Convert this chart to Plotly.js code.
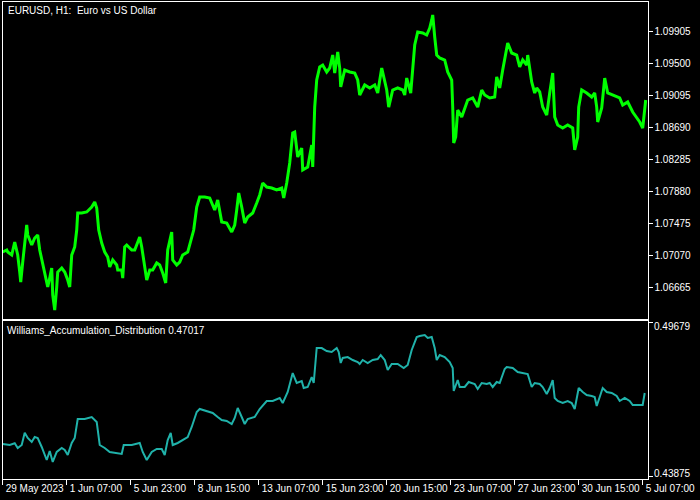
<!DOCTYPE html>
<html>
<head>
<meta charset="utf-8">
<script src="https://cdn.plot.ly/plotly-3.0.1.min.js"></script>
<style>html,body{margin:0;padding:0;background:#000;}#chart{width:700px;height:500px;}</style>
</head>
<body>
<div id="chart"></div>
<script>
// ---- Data (bar index = hourly bar number from the left edge) ----
const timeTickBars = [0, 64, 128, 192, 256, 320, 384, 448, 512, 576, 640];
const timeTickLabels = ["29 May 2023", "1 Jun 07:00", "5 Jun 23:00", "8 Jun 15:00", "13 Jun 07:00",
  "15 Jun 23:00", "20 Jun 15:00", "23 Jun 07:00", "27 Jun 23:00", "30 Jun 15:00", "5 Jul 07:00"];
const priceTicks = [1.06665, 1.07070, 1.07475, 1.07880, 1.08285, 1.08690, 1.09095, 1.09500, 1.09905];
const adTicks = [0.43875, 0.49679];

const priceBars = [0,4,5,9,12,14,15,17,18,20,22,24,25,29,32,35,37,40,44,45,47,49,50,52,54,55,59,62,65,67,69,72,74,75,79,84,89,92,94,96,99,102,105,107,110,114,115,119,120,122,124,129,132,135,137,139,141,144,147,150,154,157,160,163,165,169,170,174,177,180,185,189,191,194,197,202,207,212,215,219,224,229,232,234,236,239,242,245,250,254,257,260,264,269,274,279,281,284,287,290,292,295,299,300,305,309,310,312,314,317,320,324,327,330,332,335,337,338,342,347,352,355,357,362,367,372,375,379,382,384,386,390,395,400,402,404,408,410,412,415,420,424,427,429,430,432,434,437,442,445,449,450,451,453,455,459,462,465,470,475,479,482,487,492,494,497,500,504,505,509,514,517,520,524,525,529,532,534,537,540,544,547,550,552,555,560,565,570,572,575,576,579,584,589,592,594,595,599,602,605,610,617,620,625,630,634,637,640,643];
const priceClose = [1.07109,1.07135,1.07109,1.07071,1.07236,1.07109,1.07071,1.06855,1.06728,1.06982,1.07236,1.07452,1.07325,1.07198,1.07287,1.07325,1.07135,1.06970,1.06754,1.06665,1.06779,1.06906,1.06564,1.06373,1.06665,1.06855,1.06906,1.06855,1.06754,1.06665,1.07071,1.07173,1.07388,1.07604,1.07604,1.07617,1.07680,1.07744,1.07668,1.07388,1.07223,1.07109,1.07046,1.06919,1.07008,1.06944,1.06881,1.06881,1.06779,1.07173,1.07198,1.07135,1.07135,1.07223,1.07300,1.07173,1.06982,1.06754,1.06881,1.06881,1.06970,1.06944,1.06843,1.06716,1.07135,1.07363,1.07008,1.06944,1.06982,1.07071,1.07109,1.07287,1.07388,1.07680,1.07807,1.07807,1.07795,1.07642,1.07769,1.07490,1.07477,1.07363,1.07452,1.07642,1.07858,1.07680,1.07477,1.07553,1.07604,1.07731,1.07833,1.07985,1.07934,1.07921,1.07896,1.07921,1.07795,1.07985,1.08239,1.08619,1.08632,1.08315,1.08429,1.08150,1.08188,1.08467,1.08188,1.08949,1.09292,1.09457,1.09482,1.09394,1.09444,1.09609,1.09381,1.09647,1.09444,1.09203,1.09419,1.09394,1.09381,1.09292,1.09102,1.09229,1.09191,1.09229,1.09127,1.09444,1.09292,1.09165,1.08949,1.09165,1.09191,1.09165,1.09102,1.09317,1.09127,1.09444,1.09736,1.09901,1.09889,1.09863,1.09952,1.10054,1.10117,1.09838,1.09609,1.09571,1.09546,1.09394,1.09292,1.08949,1.08493,1.08569,1.08911,1.08823,1.08937,1.09038,1.09064,1.08949,1.09165,1.09102,1.09064,1.09076,1.09330,1.09191,1.09419,1.09698,1.09762,1.09635,1.09609,1.09457,1.09546,1.09482,1.09609,1.09267,1.09127,1.09191,1.09140,1.08949,1.08848,1.09127,1.09381,1.08823,1.08721,1.08683,1.08721,1.08683,1.08404,1.08569,1.08949,1.09165,1.09127,1.09076,1.09127,1.08949,1.08759,1.08937,1.09317,1.09127,1.09102,1.09064,1.08975,1.09013,1.08886,1.08810,1.08759,1.08683,1.09038];

const adBars = [0,7,12,15,19,22,25,29,32,35,39,42,44,47,50,54,59,62,65,69,72,75,82,89,94,97,102,107,114,119,121,129,137,140,144,149,154,159,162,165,168,170,175,180,185,189,194,197,204,210,215,219,224,229,232,235,239,242,245,252,257,264,270,277,280,285,290,294,299,301,305,309,311,314,319,324,329,334,336,338,340,345,350,355,357,360,365,370,375,378,382,385,389,395,401,405,409,414,417,422,425,429,432,434,437,442,447,450,451,454,455,457,462,466,472,475,479,484,487,490,494,497,499,502,504,510,515,520,525,529,532,537,540,544,547,550,552,555,560,565,569,572,576,580,584,589,592,594,597,600,604,609,614,617,622,627,630,635,640,642];
const adValues = [0.45110,0.45073,0.45136,0.44960,0.45073,0.45533,0.45335,0.45185,0.45372,0.45335,0.44998,0.44698,0.44511,0.44848,0.44436,0.44811,0.44960,0.44886,0.44698,0.45148,0.45335,0.46046,0.46046,0.46121,0.45934,0.45073,0.44960,0.44811,0.44773,0.44736,0.45073,0.45073,0.45148,0.44811,0.44511,0.44811,0.44923,0.44923,0.44698,0.45260,0.45522,0.45073,0.45148,0.45260,0.45372,0.45747,0.46309,0.46421,0.46346,0.46271,0.46121,0.46009,0.45972,0.45859,0.46084,0.46458,0.46121,0.45859,0.46046,0.46121,0.46421,0.46721,0.46721,0.46833,0.46646,0.47058,0.47769,0.47395,0.47470,0.47207,0.47245,0.47619,0.47395,0.48705,0.48705,0.48593,0.48556,0.48705,0.48556,0.48144,0.48331,0.48368,0.48256,0.48181,0.48106,0.48256,0.48144,0.48256,0.48293,0.48443,0.48256,0.47882,0.48106,0.48106,0.47956,0.48069,0.48631,0.49117,0.49155,0.49192,0.49080,0.49117,0.48705,0.48256,0.48443,0.48368,0.48181,0.47956,0.47095,0.47395,0.47507,0.47245,0.47245,0.47432,0.47357,0.47170,0.47395,0.47357,0.47395,0.47245,0.47432,0.47395,0.47582,0.47919,0.47994,0.47956,0.47807,0.47769,0.47732,0.47245,0.47395,0.47357,0.47245,0.46983,0.47207,0.47507,0.46833,0.46721,0.46646,0.46721,0.46646,0.46421,0.47207,0.47058,0.46945,0.46908,0.46870,0.46533,0.46833,0.47207,0.47058,0.47020,0.46908,0.46721,0.46833,0.46721,0.46571,0.46571,0.46571,0.47020];

const mainTitle = "EURUSD, H1:\u00a0 Euro vs US Dollar";
const indicatorTitle = "Williams_Accumulation_Distribution 0.47017";

// ---- Chart ----
const FONT = 'Liberation Sans, Arial, sans-serif';
const xDomain = [0.0036, 0.925];
const xRange = [-0.2, 644.8];

const traces = [
  {x: priceBars, y: priceClose, xaxis: 'x', yaxis: 'y', type: 'scatter', mode: 'lines',
   line: {color: '#00ff00', width: 3}, hoverinfo: 'skip'},
  {x: adBars, y: adValues, xaxis: 'x2', yaxis: 'y2', type: 'scatter', mode: 'lines',
   line: {color: '#20b2aa', width: 2}, hoverinfo: 'skip'}
];

const axisBase = {showline: true, mirror: true, linecolor: '#ffffff', linewidth: 1,
  showgrid: false, zeroline: false};

const layout = {
  width: 700, height: 500,
  margin: {l: 0, r: 0, t: 0, b: 0, pad: 0},
  paper_bgcolor: '#000000', plot_bgcolor: '#000000',
  showlegend: false,
  font: {family: FONT, size: 10, color: '#ffffff'},
  xaxis: Object.assign({}, axisBase, {domain: xDomain, range: xRange, anchor: 'y',
    showticklabels: false, ticks: ''}),
  yaxis: Object.assign({}, axisBase, {domain: [0.362, 0.996], range: [1.06259, 1.10282],
    side: 'right', anchor: 'x', ticks: 'outside', ticklen: 4, tickcolor: '#ffffff',
    tickvals: priceTicks, tickformat: '.5f', tickfont: {family: FONT, size: 10, color: '#ffffff'}}),
  xaxis2: Object.assign({}, axisBase, {domain: xDomain, range: xRange, anchor: 'y2',
    ticks: 'outside', ticklen: 5, tickcolor: '#ffffff', tickvals: timeTickBars,
    ticktext: timeTickLabels, ticklabelposition: 'outside right', tickangle: 0,
    ticklabeloverflow: 'allow', ticklabelshift: 2,
    tickfont: {family: FONT, size: 10, color: '#ffffff'}}),
  yaxis2: Object.assign({}, axisBase, {domain: [0.042, 0.358], range: [0.43799, 0.49717],
    side: 'right', anchor: 'x2', ticks: 'outside', ticklen: 4, tickcolor: '#ffffff',
    tickvals: adTicks, showticklabels: false}),
  annotations: [
    {text: mainTitle, xref: 'paper', yref: 'paper', x: 6 / 700, y: 1 - 10 / 500,
     xanchor: 'left', yanchor: 'middle', showarrow: false,
     font: {family: FONT, size: 10, color: '#ffffff'}},
    {text: indicatorTitle, xref: 'paper', yref: 'paper', x: 5 / 700, y: 1 - 330.5 / 500,
     xanchor: 'left', yanchor: 'middle', showarrow: false,
     font: {family: FONT, size: 10, color: '#ffffff'}},
    {text: adTicks[1].toFixed(5), xref: 'paper', yref: 'paper', x: 652 / 700, y: 1 - 326.5 / 500,
     xanchor: 'left', yanchor: 'middle', showarrow: false,
     font: {family: FONT, size: 10, color: '#ffffff'}},
    {text: adTicks[0].toFixed(5), xref: 'paper', yref: 'paper', x: 652 / 700, y: 1 - 473 / 500,
     xanchor: 'left', yanchor: 'middle', showarrow: false,
     font: {family: FONT, size: 10, color: '#ffffff'}}
  ]
};

Plotly.newPlot('chart', traces, layout, {staticPlot: true, displayModeBar: false});
</script>
</body>
</html>
